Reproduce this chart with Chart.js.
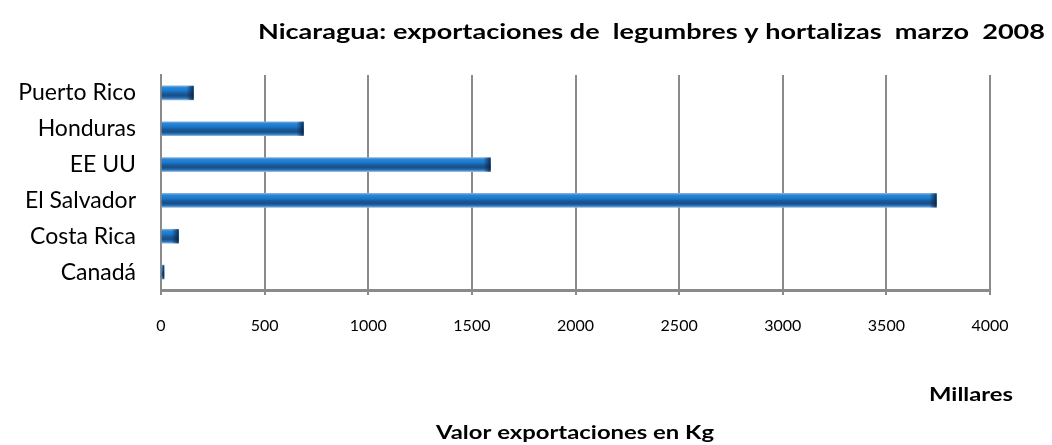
<!DOCTYPE html>
<html>
<head>
<meta charset="utf-8">
<script src="https://cdn.jsdelivr.net/npm/chart.js@4.4.1/dist/chart.umd.min.js"></script>
<style>
html,body{margin:0;padding:0;background:#fff;}
#wrap{width:1052px;height:445px;position:relative;}
</style>
</head>
<body>
<div id="wrap"><canvas id="c" width="1052" height="445"></canvas></div>
<script>
const categories = ['Puerto Rico', 'Honduras', 'EE UU', 'El Salvador', 'Costa Rica', 'Canadá'];
const values = [157, 688, 1590, 3742, 85, 15];
const xMin = 0, xMax = 4000, xStep = 500;
const chartTitle = 'Nicaragua: exportaciones de  legumbres y hortalizas  marzo  2008';
const unitLabel = 'Millares';
const xAxisTitle = 'Valor exportaciones en Kg';

const FONT = 'Lato, "Open Sans", "Liberation Sans", sans-serif';
const BAR_H = 14;

function barGradient(c) {
  const chart = c.chart;
  if (!chart.chartArea || !chart.scales.y) return '#1a72c2';
  const y = chart.scales.y.getPixelForValue(c.dataIndex);
  const g = chart.ctx.createLinearGradient(0, y - BAR_H / 2, 0, y + BAR_H / 2);
  g.addColorStop(0, '#7fb0de');
  g.addColorStop(0.12, '#2a86d6');
  g.addColorStop(0.35, '#1a78cc');
  g.addColorStop(0.55, '#17599a');
  g.addColorStop(0.72, '#1b4f86');
  g.addColorStop(0.88, '#2a74b8');
  g.addColorStop(1, '#8fb8e0');
  return g;
}

const endShade = {
  id: 'endShade',
  afterDatasetsDraw(chart) {
    const ctx = chart.ctx;
    const meta = chart.getDatasetMeta(0);
    ctx.save();
    meta.data.forEach(el => {
      const w = Math.min(7, el.x - el.base);
      if (w <= 0) return;
      const g = ctx.createLinearGradient(el.x - w, 0, el.x, 0);
      g.addColorStop(0, 'rgba(10,30,60,0)');
      g.addColorStop(1, 'rgba(10,30,60,0.85)');
      ctx.fillStyle = g;
      ctx.fillRect(el.x - w, el.y - el.height / 2, w, el.height);
    });
    ctx.restore();
  }
};

// draw text spanning [x0, x1] with given baseline
function spanText(ctx, text, font, x0, x1, baseline) {
  ctx.save();
  ctx.font = font;
  ctx.textAlign = 'left';
  ctx.textBaseline = 'alphabetic';
  const w = ctx.measureText(text).width;
  const sx = (x1 - x0) / w;
  ctx.translate(x0, baseline);
  ctx.scale(sx, 1);
  ctx.fillText(text, 0, 0);
  ctx.restore();
}

const texts = {
  id: 'texts',
  afterDraw(chart) {
    const ctx = chart.ctx;
    ctx.save();
    ctx.fillStyle = '#000';
    spanText(ctx, chartTitle, 'bold 21px ' + FONT, 258, 1045, 39);
    spanText(ctx, unitLabel, 'bold 19px ' + FONT, 929, 1013, 401);
    spanText(ctx, xAxisTitle, 'bold 19px ' + FONT, 436, 714, 439);
    ctx.restore();
  }
};

new Chart(document.getElementById('c'), {
  type: 'bar',
  data: {
    labels: categories,
    datasets: [{
      data: values,
      backgroundColor: barGradient,
      borderWidth: 0,
      barThickness: BAR_H
    }]
  },
  options: {
    indexAxis: 'y',
    responsive: false,
    animation: false,
    layout: { padding: { top: 75, right: 62, bottom: 0, left: 0 } },
    plugins: { legend: { display: false }, tooltip: { enabled: false }, title: { display: false } },
    scales: {
      x: {
        min: xMin, max: xMax,
        ticks: { stepSize: xStep, color: '#000', font: { family: FONT, size: 16 }, padding: 21, maxRotation: 0,
                 callback: v => String(v) },
        grid: { color: '#8a8a8a', lineWidth: 2, drawTicks: true, tickLength: 5, tickColor: '#8a8a8a' },
        border: { display: true, color: '#8a8a8a', width: 3 },
        afterFit(s) { s.height = 155; }
      },
      y: {
        ticks: { color: '#000', font: { family: FONT, size: 23 }, padding: 25, autoSkip: false },
        grid: { display: false, drawTicks: false },
        border: { display: true, color: '#8a8a8a', width: 2 },
        afterFit(s) { s.width = 161; }
      }
    }
  },
  plugins: [endShade, texts]
});
</script>
</body>
</html>
